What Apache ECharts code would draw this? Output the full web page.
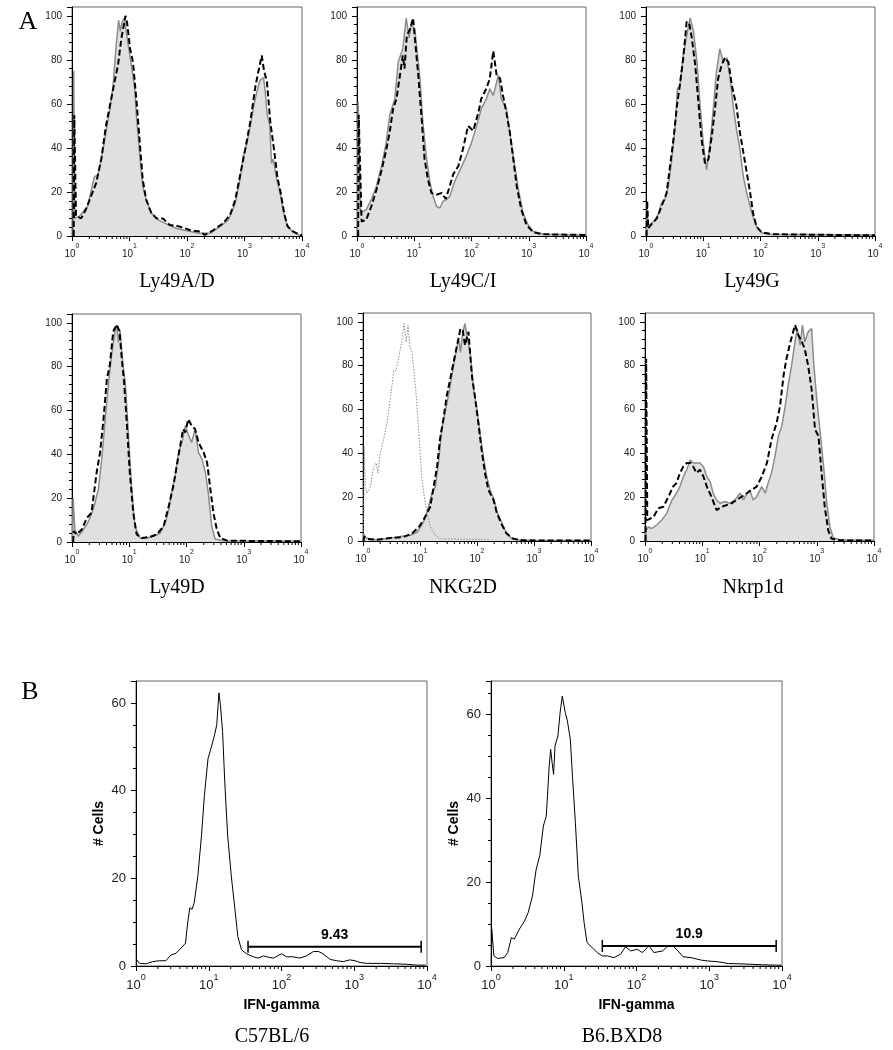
<!DOCTYPE html>
<html><head><meta charset="utf-8">
<script src="https://cdn.jsdelivr.net/npm/echarts@6/dist/echarts.min.js"></script>
<style>html,body{margin:0;padding:0;background:#fff}#c{width:893px;height:1050px}</style>
</head><body><div id="c"></div>
<script>
// x values are in decades: x = log10(fluorescence), 0..4 ; y = % of max (A) or # cells (B)
const ly49adGray = [[0.02,0],[0.03,75],[0.05,8],[0.13,9],[0.27,13.4],[0.39,27],[0.45,27.5],[0.51,35],[0.59,47],[0.65,56],[0.71,67],[0.77,87],[0.81,98],[0.84,93],[0.87,97],[0.91,99],[0.97,88],[1.03,78],[1.09,67],[1.12,55],[1.18,36],[1.23,22.6],[1.29,16.5],[1.38,10.4],[1.50,7.3],[1.64,5.5],[1.82,3.4],[1.99,2.4],[2.22,1.2],[2.40,1.2],[2.57,4.3],[2.72,7.3],[2.84,15],[2.92,25.6],[2.98,36.3],[3.04,42],[3.10,50],[3.16,59],[3.21,65],[3.27,70.7],[3.33,72],[3.36,66],[3.39,56],[3.44,50],[3.47,33],[3.50,35],[3.56,25.6],[3.62,19.5],[3.68,10.4],[3.74,5],[3.83,2],[3.94,0.5],[4,0.3]];
const ly49adDashed = [[0.03,0],[0.04,55],[0.07,9],[0.16,8],[0.24,12],[0.33,18],[0.42,24],[0.51,35],[0.59,50],[0.68,62],[0.74,70],[0.80,77.6],[0.86,90],[0.93,100],[0.96,96.6],[1.01,85],[1.06,79],[1.12,62],[1.18,42],[1.23,25.6],[1.29,16.5],[1.38,10.4],[1.47,8],[1.58,8],[1.70,5],[1.87,4.3],[2.05,2.7],[2.22,2],[2.31,0.5],[2.46,2.7],[2.63,5.8],[2.75,9.6],[2.84,16.5],[2.92,27],[3.01,39],[3.10,51.6],[3.19,68],[3.24,74.5],[3.30,82],[3.34,75],[3.39,70],[3.45,51.6],[3.52,38],[3.57,27],[3.63,19.5],[3.69,10.4],[3.75,4.3],[3.85,2],[3.97,0.5],[4,0.3]];
const ly49ciGray = [[0.01,0],[0.02,61],[0.06,10.4],[0.16,12],[0.25,16.5],[0.34,22.6],[0.43,31.8],[0.51,42.4],[0.57,54.7],[0.66,62.3],[0.72,79],[0.80,85],[0.86,99],[0.91,90],[0.95,96],[1.01,94],[1.05,84],[1.10,71.5],[1.15,51.6],[1.21,36.3],[1.27,25],[1.33,18],[1.39,13.4],[1.45,12.7],[1.50,15.7],[1.56,16.5],[1.62,18],[1.71,25],[1.80,30],[1.91,36.3],[2.00,42.4],[2.09,50],[2.17,57.7],[2.26,62.3],[2.32,66.9],[2.38,63.8],[2.47,73],[2.52,62.3],[2.61,57.7],[2.67,47],[2.73,36.3],[2.82,21],[2.90,10.4],[2.99,5],[3.08,2],[3.25,0.8],[3.95,0.3],[4,0.3]];
const ly49ciDashed = [[0.02,0],[0.03,55],[0.08,6.6],[0.16,7.3],[0.25,13.4],[0.34,21],[0.43,30],[0.51,39],[0.57,47],[0.63,57.7],[0.69,62.3],[0.75,73],[0.80,82],[0.83,76],[0.87,91],[0.92,93.6],[0.98,99],[1.01,90],[1.07,73],[1.13,53],[1.18,35],[1.24,25.6],[1.30,19.5],[1.39,18.8],[1.48,19.5],[1.55,16.8],[1.62,22.6],[1.68,28],[1.77,31.8],[1.85,39.4],[1.94,50],[2.03,47.8],[2.12,56],[2.17,62.3],[2.26,67],[2.32,71.5],[2.38,84],[2.44,73],[2.50,71.5],[2.55,63.8],[2.61,56],[2.67,47],[2.73,35],[2.79,22.6],[2.87,12],[2.96,5],[3.08,1.7],[3.25,0.8],[3.95,0.5],[4,0.5]];
const ly49gGray = [[0.01,0],[0.02,12],[0.04,4.3],[0.10,5.8],[0.16,7.3],[0.22,10.4],[0.27,15],[0.33,16.5],[0.39,22.6],[0.45,34.8],[0.51,50],[0.55,67],[0.59,67.6],[0.65,82],[0.71,91],[0.77,99],[0.83,93],[0.89,79],[0.94,60.8],[1.00,42.4],[1.06,30],[1.12,42.4],[1.18,59],[1.23,74.5],[1.29,85],[1.35,79],[1.41,81],[1.47,71.5],[1.53,57.7],[1.58,48.5],[1.64,39.4],[1.70,27],[1.76,19.5],[1.85,10.4],[1.93,4.3],[2.02,1.5],[2.17,0.8],[3.97,0.5],[4,0.5]];
const ly49gDashed = [[0.01,0],[0.02,16],[0.04,3.5],[0.10,5.5],[0.19,8],[0.27,13.4],[0.36,19.5],[0.42,31.8],[0.48,44],[0.54,59],[0.59,68.4],[0.65,80.6],[0.71,97.4],[0.76,96],[0.80,90],[0.86,77.6],[0.91,62.3],[0.97,44],[1.03,33],[1.09,34.8],[1.15,45.5],[1.21,59],[1.26,71.5],[1.32,77.6],[1.38,81],[1.44,79],[1.50,68.4],[1.58,59],[1.64,47],[1.70,38],[1.76,28.7],[1.82,19.5],[1.87,10.4],[1.93,4.3],[2.02,1.7],[2.22,0.8],[3.97,0.3],[4,0.3]];
const ly49dGray = [[0.01,0],[0.02,20],[0.05,5.7],[0.11,2.6],[0.20,5.7],[0.29,9.5],[0.37,14.8],[0.46,24],[0.52,37.8],[0.58,56],[0.64,73],[0.69,85],[0.75,96],[0.78,99],[0.81,91],[0.84,96.6],[0.89,80.6],[0.93,73],[0.99,47],[1.04,25.5],[1.10,7],[1.19,1.8],[1.31,1.8],[1.42,2.6],[1.54,4],[1.63,8.7],[1.69,14.8],[1.74,22.5],[1.80,30],[1.86,40.8],[1.92,45.4],[1.98,53],[2.03,49],[2.09,45.4],[2.15,51.5],[2.21,40.8],[2.27,37.8],[2.33,31.7],[2.38,22.5],[2.44,7.2],[2.50,1.4],[2.65,0.6],[3.99,0.3],[4,0.3]];
const ly49dDashed = [[0.02,0],[0.03,5],[0.08,3.4],[0.17,5.7],[0.26,11],[0.34,13.3],[0.43,31.6],[0.49,40.8],[0.55,56],[0.61,74.5],[0.66,80.6],[0.72,96],[0.78,99.2],[0.83,96],[0.87,83.6],[0.91,73],[0.96,53],[1.01,31.6],[1.07,13.3],[1.13,3.4],[1.22,1.8],[1.36,2.3],[1.48,3.4],[1.60,7.2],[1.69,16.4],[1.77,25.5],[1.83,34.7],[1.89,43.9],[1.94,51.5],[1.98,50],[2.03,56],[2.09,53],[2.15,51.5],[2.21,45.4],[2.30,40.8],[2.36,36.2],[2.41,25.5],[2.47,13.3],[2.53,5.7],[2.59,1.8],[2.71,0.6],[3.99,0.3],[4,0.3]];
const nkg2dIsotype = [[0.01,0],[0.02,43],[0.04,24.8],[0.07,21.8],[0.13,24.8],[0.19,34],[0.23,35.6],[0.26,31],[0.30,40],[0.36,46.3],[0.42,54],[0.48,64.7],[0.54,77.8],[0.58,77.8],[0.62,83],[0.68,90.8],[0.72,99.2],[0.76,90.8],[0.79,98.5],[0.82,89],[0.86,86],[0.92,70.9],[0.98,49.4],[1.03,29.4],[1.09,17.2],[1.18,6.4],[1.27,2.6],[1.35,1],[2.23,0.6]];
const nkg2dGray = [[0.01,0],[0.02,3],[0.04,1.5],[0.19,0.6],[0.42,1],[0.65,2],[0.83,2.6],[0.95,4],[1.03,7.2],[1.09,10.3],[1.15,15.6],[1.21,21.8],[1.27,24.8],[1.33,37],[1.38,51],[1.44,58.6],[1.50,66.3],[1.56,75.5],[1.62,84.7],[1.68,92.3],[1.71,86],[1.75,95],[1.79,99.2],[1.82,93.9],[1.88,86],[1.94,69.3],[2.00,60],[2.06,47.9],[2.11,38.6],[2.17,29.4],[2.23,23.3],[2.30,18.7],[2.35,13.3],[2.44,8],[2.52,3.4],[2.61,1],[2.76,0.3],[3.98,0.2],[4,0.2]];
const nkg2dDashed = [[0.01,0],[0.02,2],[0.07,1],[0.25,0.6],[0.48,1.4],[0.71,1.8],[0.86,3.4],[0.98,6.4],[1.06,9.5],[1.12,12.6],[1.18,15.6],[1.24,24.8],[1.30,34],[1.35,46.3],[1.41,55.5],[1.47,66.3],[1.53,73.9],[1.59,81.6],[1.65,89.3],[1.71,96.9],[1.75,96],[1.79,89.3],[1.85,95.4],[1.91,75.5],[1.97,64.7],[2.03,52.5],[2.08,41.7],[2.14,31],[2.20,23.3],[2.29,18.7],[2.35,12.6],[2.44,7.2],[2.52,3.4],[2.64,1],[2.81,0.3],[3.98,0.2],[4,0.2]];
const nkrp1dGray = [[0.01,0],[0.02,5],[0.06,6.4],[0.12,5.7],[0.20,7.2],[0.29,9.5],[0.38,12.6],[0.47,18.7],[0.55,21.8],[0.61,24.8],[0.67,29.4],[0.73,32.5],[0.79,37],[0.84,35.6],[0.90,35.6],[0.96,35.6],[1.02,34],[1.08,29.4],[1.14,27],[1.19,21.8],[1.25,18.7],[1.31,17.2],[1.40,18],[1.48,17.2],[1.57,18.7],[1.66,21.8],[1.72,18.7],[1.78,21.8],[1.83,23.3],[1.89,18.7],[1.95,20.2],[2.04,24.8],[2.10,21.8],[2.15,26.4],[2.21,31],[2.27,38.6],[2.33,47.9],[2.39,52.5],[2.45,61.7],[2.50,70.9],[2.56,80],[2.62,90.8],[2.66,96.9],[2.71,89.3],[2.75,98.5],[2.79,90.8],[2.85,95.4],[2.91,96.9],[2.95,80],[3.00,64.7],[3.06,49.4],[3.12,34],[3.17,18.7],[3.23,6.4],[3.29,1.5],[3.41,0.6],[3.99,0.3],[4,0.3]];
const nkrp1dDashed = [[0.01,0],[0.02,83],[0.04,9.5],[0.15,11],[0.23,14.9],[0.32,15.6],[0.41,20.2],[0.49,24.8],[0.55,26.4],[0.61,31],[0.67,34],[0.73,35.6],[0.79,35.6],[0.84,34],[0.90,31],[0.96,32.5],[1.02,29.4],[1.08,24.8],[1.16,20.2],[1.25,14.1],[1.34,15.6],[1.43,16.4],[1.51,17.2],[1.60,18.7],[1.69,20.2],[1.78,21.8],[1.86,23.3],[1.95,24.8],[2.04,29.4],[2.13,35.6],[2.21,46.3],[2.30,54],[2.36,61.7],[2.42,75.5],[2.47,83],[2.54,90.8],[2.62,98.5],[2.68,93.9],[2.74,90.8],[2.79,87.7],[2.85,80],[2.91,69.3],[2.97,50.9],[3.03,47.9],[3.09,29.4],[3.14,15.6],[3.20,4.9],[3.26,1],[3.41,0.3],[3.99,0.2],[4,0.2]];
const ifngC57 = [[0.005,0],[0.01,1.4],[0.05,0.6],[0.14,0.5],[0.23,1.0],[0.32,1.2],[0.41,1.2],[0.48,2.5],[0.55,2.9],[0.62,4.1],[0.68,5.2],[0.71,9.8],[0.74,13.3],[0.77,12.9],[0.80,14.4],[0.85,20.5],[0.90,29.7],[0.94,38.9],[0.99,47.3],[1.03,49.6],[1.08,52.7],[1.11,55],[1.14,62.3],[1.16,59.6],[1.19,53.5],[1.22,42],[1.26,29.7],[1.31,20.5],[1.36,12.9],[1.40,6.7],[1.45,3.7],[1.52,2.8],[1.61,2.1],[1.68,1.8],[1.75,2.3],[1.82,2.0],[1.89,1.8],[2.00,2.8],[2.07,2.1],[2.16,2.1],[2.25,1.8],[2.34,2.3],[2.44,3.3],[2.51,3.3],[2.57,2.8],[2.67,1.5],[2.76,1.2],[2.85,1.0],[2.94,1.4],[3.01,1.2],[3.08,0.8],[3.17,0.6],[3.36,0.6],[3.54,0.5],[3.72,0.4],[3.86,0.2],[3.98,0.2]];
const ifngBXD8 = [[0.005,0],[0.01,8.8],[0.04,2.4],[0.09,1.8],[0.18,2.0],[0.23,3.2],[0.28,6.8],[0.32,6.4],[0.39,8.8],[0.46,10.7],[0.51,12.7],[0.57,16.7],[0.62,23],[0.67,26.3],[0.72,33.4],[0.76,35.8],[0.80,47.7],[0.82,51.7],[0.84,48.5],[0.86,45.7],[0.88,52.5],[0.92,54.9],[0.95,60.5],[0.98,64.4],[1.02,60.5],[1.05,58.5],[1.09,54.1],[1.12,45.3],[1.16,34.2],[1.20,21.5],[1.25,15.1],[1.28,10.3],[1.32,5.6],[1.39,4.4],[1.46,3.2],[1.53,2.4],[1.60,2.4],[1.69,2.0],[1.78,2.8],[1.85,4.6],[1.92,3.6],[2.01,4.0],[2.08,3.2],[2.17,4.8],[2.24,3.2],[2.36,3.6],[2.43,4.8],[2.50,4.8],[2.57,3.6],[2.64,2.2],[2.75,2.0],[2.89,1.4],[2.98,1.2],[3.12,1.0],[3.26,0.6],[3.45,0.5],[3.73,0.3],[3.91,0.2],[3.99,0.2]];
// gates: [from decade, to decade, y]
const gateC57 = [1.54, 3.92, 4.4];
const gateBXD8 = [1.53, 3.92, 4.8];
const gateLabels = ['9.43', '10.9'];
const panelNames = ['Ly49A/D','Ly49C/I','Ly49G','Ly49D','NKG2D','Nkrp1d'];
const strainNames = ['C57BL/6','B6.BXD8'];
const panelLetters = ['A','B'];
const xTickMultipliers = [2,3,4,5,6,7,8,9];
const decades = [0,1,2,3];

const SANS = 'Liberation Sans, Arial, sans-serif';
const SERIF = 'Liberation Serif, Times New Roman, serif';

const grids = [], xAxes = [], yAxes = [], series = [];

function addPanel(box, o) {
  const gi = grids.length;
  grids.push(Object.assign({show:true, borderColor:'#666', borderWidth:1, backgroundColor:'transparent'}, box));
  xAxes.push({
    gridIndex: gi, type:'value', min:0, max:4, interval:1, position:'bottom',
    axisLine:{show:true, lineStyle:{color:'#000', width:1}},
    axisTick:{show:true, length:5, lineStyle:{color:'#000'}},
    splitLine:{show:false},
    axisLabel:{margin:o.xMargin, formatter: v => '{b|10}{s|' + v + '}',
      rich:{ b:{fontSize:o.fs, fontFamily:SANS, color:'#222', lineHeight:o.fs+6, verticalAlign:'bottom'},
             s:{fontSize:o.sfs, fontFamily:SANS, color:'#222', lineHeight:o.sfs+1, verticalAlign:'top'} }},
    name: o.xName || '', nameLocation:'middle', nameGap: o.xNameGap || 0,
    nameTextStyle:{fontFamily:SANS, fontWeight:'bold', fontSize:14, color:'#000'}
  });
  const yi = yAxes.length;
  yAxes.push({
    gridIndex: gi, type:'value', min:0, max:o.ymax, interval:20, position:'left',
    axisLine:{show:true, lineStyle:{color:'#000', width:1}},
    axisTick:{show:true, length:5, lineStyle:{color:'#000'}},
    splitLine:{show:false},
    axisLabel:{margin:o.yMargin, fontSize:o.fs, fontFamily:SANS, color:'#222',
      formatter: v => (v % 20 === 0 && v <= o.lastLabel) ? String(v) : ''},
    name: o.yName || '', nameLocation:'middle', nameGap: o.yNameGap || 0, nameRotate:90,
    nameTextStyle:{fontFamily:SANS, fontWeight:'bold', fontSize:14, color:'#000'}
  });
  yAxes.push({
    gridIndex: gi, type:'value', min:0, max:o.ymax, interval:o.minorStep, position:'left', offset:0,
    axisLine:{show:false}, axisTick:{show:true, length:3, lineStyle:{color:'#000'}},
    axisLabel:{show:false}, splitLine:{show:false}
  });
  // log minor ticks on x axis
  series.push({
    type:'custom', xAxisIndex:gi, yAxisIndex:yi, silent:true, clip:false, z:5,
    data: decades.map(d => [d]),
    renderItem: (params, api) => {
      const d = api.value(0);
      return {type:'group', children: xTickMultipliers.map(m => {
        const p = api.coord([d + Math.log10(m), 0]);
        return {type:'line', shape:{x1:p[0], y1:p[1], x2:p[0], y2:p[1]+3}, style:{stroke:'#000', lineWidth:1}};
      })};
    }
  });
  return {x:gi, y:yi};
}

function fillGray(ax, data) {
  series.push({type:'line', xAxisIndex:ax.x, yAxisIndex:ax.y, data, showSymbol:false, silent:true, z:2,
    lineStyle:{color:'#8c8c8c', width:1.5}, areaStyle:{color:'#e0e0e0', opacity:1}});
}
function dashed(ax, data) {
  series.push({type:'line', xAxisIndex:ax.x, yAxisIndex:ax.y, data, showSymbol:false, silent:true, z:3,
    lineStyle:{color:'#000', width:2, type:[6,3]}});
}
function dotted(ax, data) {
  series.push({type:'line', xAxisIndex:ax.x, yAxisIndex:ax.y, data, showSymbol:false, silent:true, z:3,
    lineStyle:{color:'#8c8c8c', width:1, type:[1.5,1.5]}});
}
function solid(ax, data) {
  series.push({type:'line', xAxisIndex:ax.x, yAxisIndex:ax.y, data, showSymbol:false, silent:true, z:3,
    lineStyle:{color:'#000', width:1}});
}
function gate(ax, g, label) {
  series.push({type:'custom', xAxisIndex:ax.x, yAxisIndex:ax.y, silent:true, z:6,
    data:[g],
    renderItem:(params, api) => {
      const a = api.coord([api.value(0), api.value(2)]);
      const b = api.coord([api.value(1), api.value(2)]);
      return {type:'group', children:[
        {type:'line', shape:{x1:a[0], y1:a[1], x2:b[0], y2:b[1]}, style:{stroke:'#000', lineWidth:2}},
        {type:'line', shape:{x1:a[0], y1:a[1]-6, x2:a[0], y2:a[1]+6}, style:{stroke:'#000', lineWidth:1.5}},
        {type:'line', shape:{x1:b[0], y1:b[1]-6, x2:b[0], y2:b[1]+6}, style:{stroke:'#000', lineWidth:1.5}},
        {type:'text', x:(a[0]+b[0])/2, y:a[1]-12, style:{text:label, font:'bold 14px ' + SANS, fill:'#000',
          align:'center', verticalAlign:'middle', textAlign:'center', textVerticalAlign:'middle'}}
      ]};
    }
  });
}

const aOpts = {ymax:104, minorStep:4, lastLabel:100, fs:10, sfs:7, xMargin:7, yMargin:10};
const bOpts = {ymax:65, minorStep:5, lastLabel:60, fs:13, sfs:9, xMargin:7, yMargin:10,
  xName:'IFN-gamma', xNameGap:32, yName:'# Cells', yNameGap:30};

const p1 = addPanel({left:72, top:7, width:230, height:229}, aOpts);
fillGray(p1, ly49adGray); dashed(p1, ly49adDashed);
const p2 = addPanel({left:357, top:7, width:229, height:229}, aOpts);
fillGray(p2, ly49ciGray); dashed(p2, ly49ciDashed);
const p3 = addPanel({left:646, top:7, width:229, height:229}, aOpts);
fillGray(p3, ly49gGray); dashed(p3, ly49gDashed);
const p4 = addPanel({left:72, top:314, width:229, height:228}, aOpts);
fillGray(p4, ly49dGray); dashed(p4, ly49dDashed);
const p5 = addPanel({left:363, top:313, width:228, height:228}, aOpts);
fillGray(p5, nkg2dGray); dotted(p5, nkg2dIsotype); dashed(p5, nkg2dDashed);
const p6 = addPanel({left:645, top:313, width:229, height:228}, aOpts);
fillGray(p6, nkrp1dGray); dashed(p6, nkrp1dDashed);
const p7 = addPanel({left:136, top:681, width:291, height:285}, bOpts);
solid(p7, ifngC57); gate(p7, gateC57, gateLabels[0]);
const p8 = addPanel({left:491, top:681, width:291, height:285}, Object.assign({}, bOpts, {ymax:68}));
solid(p8, ifngBXD8); gate(p8, gateBXD8, gateLabels[1]);

function txt(text, x, y, font) {
  return {type:'text', x, y, silent:true, style:{text, font, fill:'#000',
    align:'center', verticalAlign:'middle', textAlign:'center', textVerticalAlign:'middle'}};
}
const nameFont = '20px ' + SERIF;
const graphics = [
  txt(panelLetters[0], 28, 22, '26px ' + SERIF),
  txt(panelLetters[1], 30, 692, '26px ' + SERIF),
  txt(panelNames[0], 177, 282, nameFont),
  txt(panelNames[1], 463, 282, nameFont),
  txt(panelNames[2], 752, 282, nameFont),
  txt(panelNames[3], 177, 588, nameFont),
  txt(panelNames[4], 463, 588, nameFont),
  txt(panelNames[5], 753, 588, nameFont),
  txt(strainNames[0], 272, 1037, nameFont),
  txt(strainNames[1], 622, 1037, nameFont)
];

const chart = echarts.init(document.getElementById('c'), null, {renderer:'canvas'});
chart.setOption({
  animation:false, backgroundColor:'#fff',
  grid: grids, xAxis: xAxes, yAxis: yAxes, series, graphic: graphics
});
</script></body></html>
